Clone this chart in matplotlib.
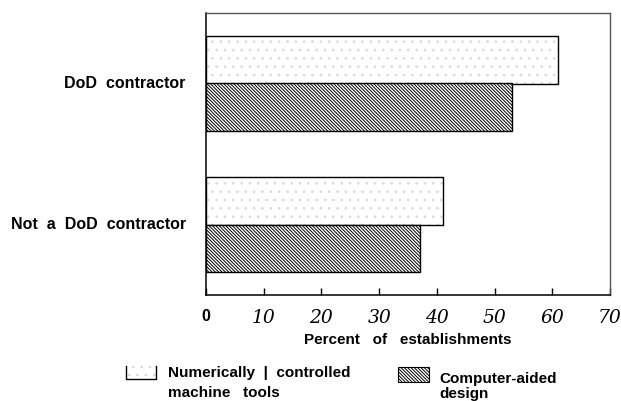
import matplotlib
matplotlib.use("Agg")
import matplotlib.pyplot as plt
from matplotlib.patches import Rectangle
from matplotlib.lines import Line2D

categories = ["Not  a  DoD  contractor", "DoD  contractor"]
nc_tools = [41, 61]      # Numerically controlled machine tools
cad = [37, 53]           # Computer-aided design
xticks = [0, 10, 20, 30, 40, 50, 60, 70]

plt.rcParams['hatch.linewidth'] = 0.7
sans = ['Liberation Sans', 'DejaVu Sans']
dense = '\\' * 10

fig = plt.figure(figsize=(6.21, 4.01), dpi=100)
ax = fig.add_axes([206/621, 1 - 295/401, 404/621, 282/401])

ypos = [0, 1]
h = 0.34
# stippled bars (light dots) with a black outline on top
ax.barh([y + h/2 for y in ypos], nc_tools, height=h, color='white',
        edgecolor='#dadada', hatch='..', linewidth=0)
ax.barh([y + h/2 for y in ypos], nc_tools, height=h, fill=False,
        edgecolor='black', linewidth=1)
ax.barh([y - h/2 for y in ypos], cad, height=h, color='white',
        edgecolor='black', hatch=dense, linewidth=1)

ax.set_xlim(0, 70)
ax.set_ylim(-0.5, 1.5)
ax.set_yticks([])
ax.set_xticks(xticks)
ax.set_xticklabels([str(t) for t in xticks], family='DejaVu Serif',
                   style='italic', fontsize=13.5)
lab0 = ax.get_xticklabels()[0]
lab0.set_family(sans)
lab0.set_style('normal')
lab0.set_weight('bold')
lab0.set_fontsize(11.5)
ax.tick_params(axis='x', direction='in', length=5, width=1, pad=10)

for s in ['left', 'bottom']:
    ax.spines[s].set_color('black')
    ax.spines[s].set_linewidth(1.1)
for s in ['top', 'right']:
    ax.spines[s].set_color('#555555')
    ax.spines[s].set_linewidth(1)

for y, c in zip(ypos, categories):
    ax.text(-0.05, y, c, transform=ax.get_yaxis_transform(), ha='right',
            va='center', family=sans, weight='bold', fontsize=11.5)

fig.text(408/621, 1 - 340/401, "Percent   of   establishments", ha='center',
         va='center', family=sans, weight='bold', fontsize=11)

# legend
W, H = 621, 401
def fx(px): return px / W
def fy(py): return 1 - py / H

fig.add_artist(Rectangle((fx(126), fy(379)), 30/W, 13/H, transform=fig.transFigure,
                         facecolor='white', edgecolor='#dadada', hatch='..', linewidth=0))
fig.add_artist(Line2D([fx(126), fx(126), fx(156), fx(156)],
                      [fy(366), fy(379), fy(379), fy(366)],
                      transform=fig.transFigure, color='black', linewidth=1))
fig.text(fx(168), fy(373), "Numerically  |  controlled", ha='left', va='center',
         family=sans, weight='bold', fontsize=11)
fig.text(fx(168), fy(393), "machine   tools", ha='left', va='center',
         family=sans, weight='bold', fontsize=11)

fig.add_artist(Rectangle((fx(398), fy(382)), 31/W, 15/H, transform=fig.transFigure,
                         facecolor='white', edgecolor='black', hatch=dense,
                         linewidth=0.8))
fig.text(fx(439), fy(379), "Computer-aided", ha='left', va='center',
         family=sans, weight='bold', fontsize=11)
fig.text(fx(439), fy(394), "design", ha='left', va='center',
         family=sans, weight='bold', fontsize=11)

fig.savefig("out.png", dpi=100)
